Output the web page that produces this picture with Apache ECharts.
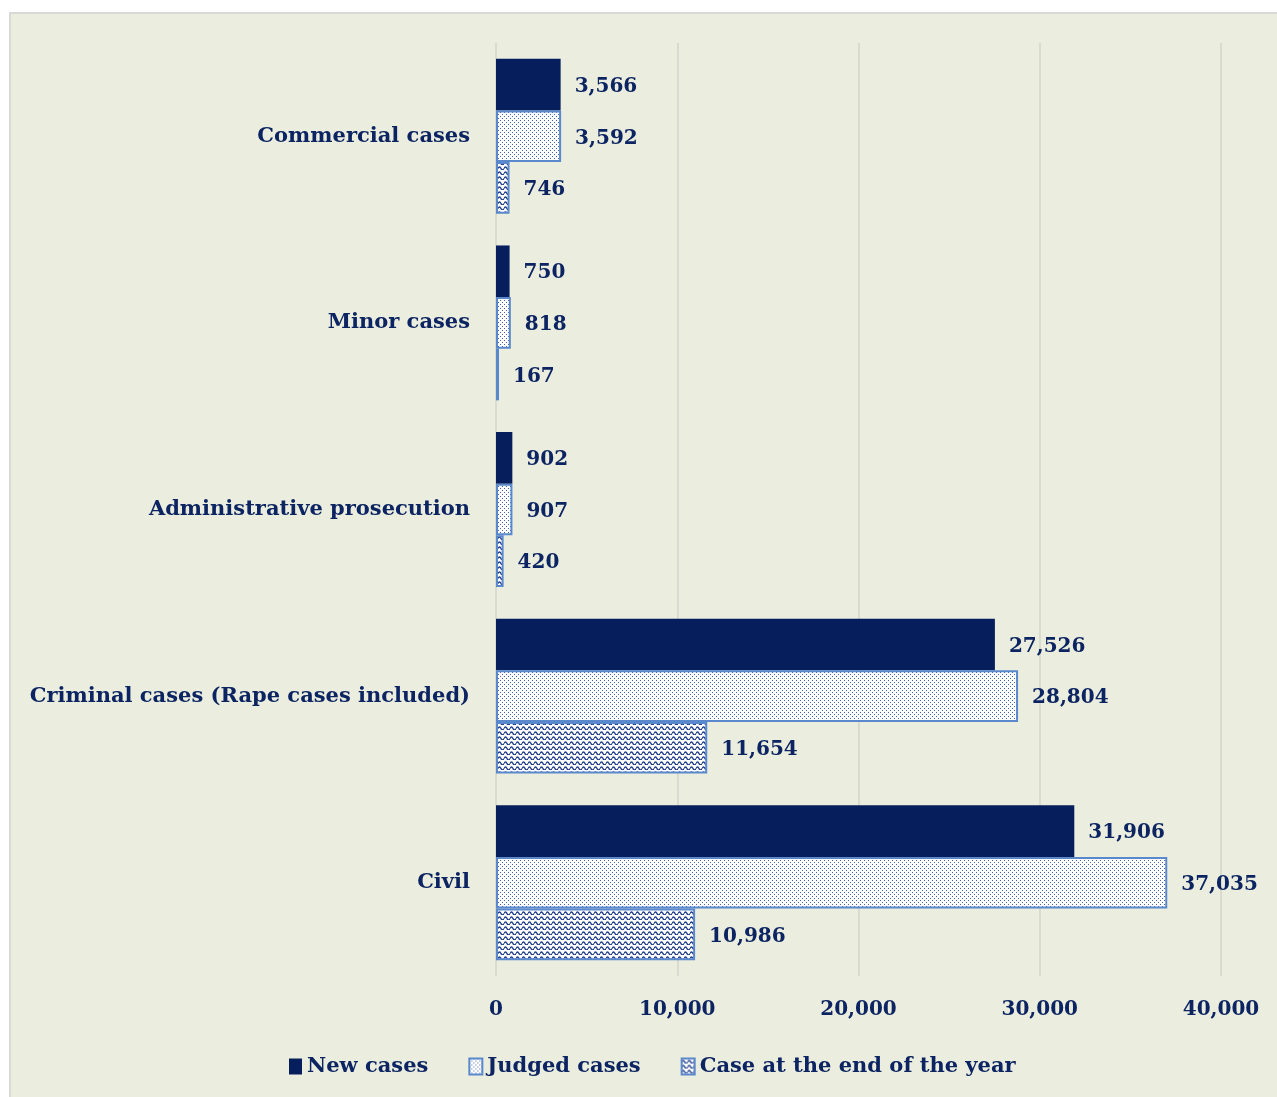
<!DOCTYPE html>
<html>
<head>
<meta charset="utf-8">
<script src="https://cdn.jsdelivr.net/npm/echarts@6/dist/echarts.min.js"></script>
<style>
    html, body { margin: 0; padding: 0; background: #ffffff; overflow: hidden; }
    #frame {
        position: absolute; left: 9px; top: 12px; width: 1290px; height: 1100px;
        background: #ebeedf; border: 2px solid #d8d8d4;
    }
    #main { position: absolute; left: 0; top: 0; width: 1277px; height: 1097px; }
</style>
</head>
<body>
<div id="frame"></div>
<div id="main"></div>
<script>
// 类别（从下到上）
const categories = ['Civil', 'Criminal cases (Rape cases included)', 'Administrative prosecution', 'Minor cases', 'Commercial cases'];
// 数据
const newCases = [31906, 27526, 902, 750, 3566];
const judgedCases = [37035, 28804, 907, 818, 3592];
const endOfYear = [10986, 11654, 420, 167, 746];
const xTicks = [0, 10000, 20000, 30000, 40000];

const textColor = '#0c2461';
const fontFamily = "'DejaVu Serif', serif";

// 点状填充
function dotPattern() {
    const c = document.createElement('canvas');
    c.width = 4; c.height = 4;
    const ctx = c.getContext('2d');
    ctx.fillStyle = '#ffffff';
    ctx.fillRect(0, 0, 4, 4);
    ctx.fillStyle = '#4463ad';
    ctx.fillRect(0, 0, 1, 1);
    ctx.fillRect(2, 2, 1, 1);
    return c;
}

// 波浪填充
function wavePattern() {
    const c = document.createElement('canvas');
    c.width = 6; c.height = 5;
    const ctx = c.getContext('2d');
    ctx.fillStyle = '#ffffff';
    ctx.fillRect(0, 0, 6, 5);
    ctx.strokeStyle = '#1f3d8c';
    ctx.lineWidth = 1.4;
    ctx.beginPath();
    ctx.moveTo(0, 3.5);
    ctx.quadraticCurveTo(1.5, 0.5, 3, 3.5);
    ctx.quadraticCurveTo(4.5, 6.5, 6, 3.5);
    ctx.stroke();
    return c;
}

const fmt = v => Number(v).toLocaleString('en-US');

const chart = echarts.init(document.getElementById('main'));

const labelStyle = {
    show: true,
    position: 'right',
    distance: 14,
    offset: [0, 2],
    color: textColor,
    fontFamily: fontFamily,
    fontWeight: 'bold',
    fontSize: 20,
    formatter: p => fmt(p.value)
};

const option = {
    backgroundColor: 'transparent',
    animation: false,
    grid: { left: 496, right: 56, top: 43, bottom: 121, containLabel: false },
    legend: {
        left: 284,
        bottom: 15,
        icon: 'rect',
        itemWidth: 13,
        itemHeight: 16,
        itemGap: 40,
        textStyle: { color: textColor, fontFamily: fontFamily, fontWeight: 'bold', fontSize: 21 },
        data: ['New cases', 'Judged cases', 'Case at the end of the year']
    },
    xAxis: {
        type: 'value',
        min: xTicks[0],
        max: xTicks[xTicks.length - 1],
        interval: 10000,
        axisLine: { show: false },
        axisTick: { show: false },
        splitLine: { show: true, lineStyle: { color: '#d9dbd0', width: 2 } },
        axisLabel: {
            margin: 24,
            color: textColor,
            fontFamily: fontFamily,
            fontWeight: 'bold',
            fontSize: 20,
            formatter: v => fmt(v)
        }
    },
    yAxis: {
        type: 'category',
        data: categories,
        axisLine: { show: false },
        axisTick: { show: false },
        axisLabel: {
            margin: 26,
            color: textColor,
            fontFamily: fontFamily,
            fontWeight: 'bold',
            fontSize: 21
        }
    },
    series: [
        {
            name: 'New cases',
            type: 'bar',
            data: newCases,
            barGap: '0%',
            barCategoryGap: '17%',
            itemStyle: { color: '#061f5c' },
            label: labelStyle
        },
        {
            name: 'Judged cases',
            type: 'bar',
            data: judgedCases,
            itemStyle: {
                color: { image: dotPattern(), repeat: 'repeat' },
                borderColor: '#5a88cc',
                borderWidth: 2
            },
            label: labelStyle
        },
        {
            name: 'Case at the end of the year',
            type: 'bar',
            data: endOfYear,
            itemStyle: {
                color: { image: wavePattern(), repeat: 'repeat' },
                borderColor: '#5a88cc',
                borderWidth: 2
            },
            label: labelStyle
        }
    ]
};

chart.setOption(option);
</script>
</body>
</html>
